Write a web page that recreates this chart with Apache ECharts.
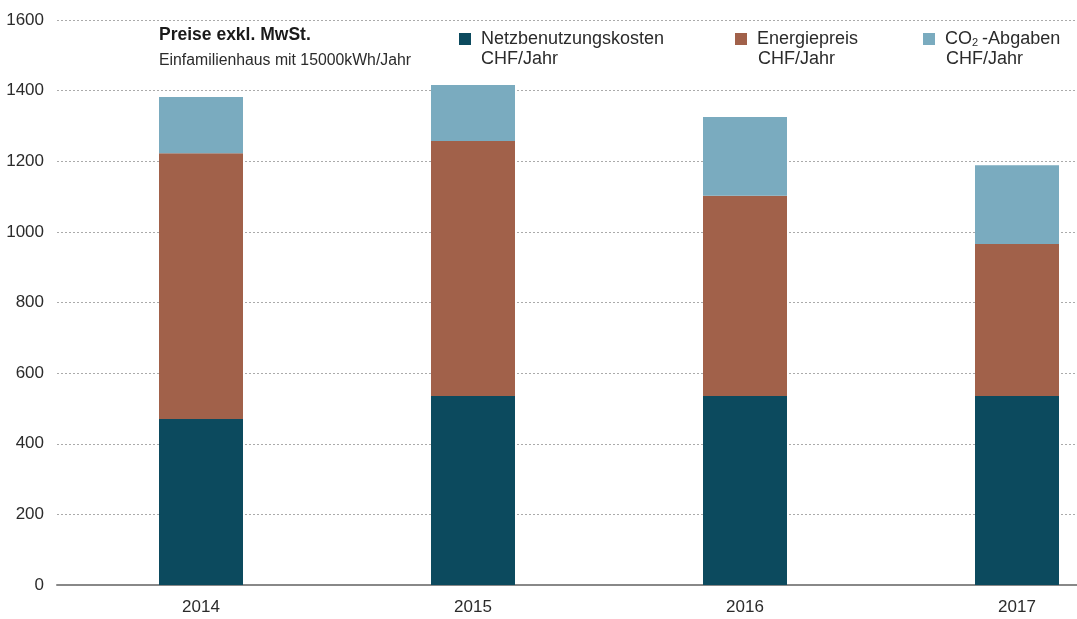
<!DOCTYPE html>
<html><head><meta charset="utf-8">
<script src="https://cdn.jsdelivr.net/npm/echarts@6/dist/echarts.min.js"></script>
<style>html,body{margin:0;padding:0;background:#fff}#c{width:1077px;height:619px}</style>
</head><body><div id="c"></div>
<script>
const years = ['2014', '2015', '2016', '2017'];
const netz = [470, 535, 535, 535];
const energie = [753, 722, 567, 431];
const co2 = [159, 159, 223, 223];
const yTicks = [0, 200, 400, 600, 800, 1000, 1200, 1400, 1600];
const names = ['Netzbenutzungskosten', 'Energiepreis', 'CO2-Abgaben'];
const colors = ['#0c4a5e', '#a1614a', '#7aabbf'];
const FONT = 'Liberation Sans';
const TXT = '#2b2b2b';

const chart = echarts.init(document.getElementById('c'), null, {renderer: 'canvas'});
function mk(name, vals, color) {
  return {
    name: name, type: 'bar', stack: 't', barWidth: 84, clip: false,
    xAxisIndex: 1, yAxisIndex: 1,
    itemStyle: {color: color},
    data: vals
  };
}
chart.setOption({
  animation: false,
  textStyle: {fontFamily: FONT},
  grid: [
    {left: 57, right: 0, top: 20, bottom: 34, containLabel: false},
    {left: 201, right: 60, top: 20, bottom: 34, containLabel: false}
  ],
  title: {
    text: '{b|Preise exkl. MwSt}{r|.}',
    subtext: 'Einfamilienhaus mit 15000kWh/Jahr',
    left: 159, top: 26, itemGap: 9, padding: 0,
    textStyle: {fontSize: 17.5, fontFamily: FONT,
      rich: {b: {fontSize: 17.5, fontWeight: 'bold', color: '#1a1a1a', fontFamily: FONT},
             r: {fontSize: 17.5, color: '#1a1a1a', fontFamily: FONT}}},
    subtextStyle: {fontSize: 15.8, color: TXT, fontFamily: FONT}
  },
  legend: [0, 1, 2].map(i => ({
    data: [names[i]],
    left: [459, 735, 923][i], top: 30, padding: 0,
    itemWidth: 12, itemHeight: 12, itemGap: 10,
    icon: 'rect',
    textStyle: {fontSize: 18, color: TXT, fontFamily: FONT, padding: [0, 0, 0, 5],
      rich: {a: {fontSize: 18, color: TXT, fontFamily: FONT},
             s: {fontSize: 11, color: TXT, fontFamily: FONT, padding: [7, 4, 0, 0]}}},
    formatter: n => n === 'CO2-Abgaben' ? '{a|CO}{s|2}{a|-Abgaben}' : n
  })),
  graphic: [481, 758, 946].map(x => ({
    type: 'text', left: x, top: 50,
    style: {text: 'CHF/Jahr', fontSize: 18, fill: TXT, fontFamily: FONT}
  })),
  xAxis: [
    {
      type: 'category', gridIndex: 0, data: years,
      axisTick: {show: false}, axisLabel: {show: false}, splitLine: {show: false},
      axisLine: {show: true, lineStyle: {color: '#888', width: 2}}
    },
    {
      type: 'category', gridIndex: 1, data: years, boundaryGap: false,
      axisTick: {show: false}, splitLine: {show: false},
      axisLine: {show: false},
      axisLabel: {fontSize: 17, color: TXT, margin: 14}
    }
  ],
  yAxis: [
    {
      type: 'value', gridIndex: 0, min: 0, max: 1600, interval: 200,
      axisLine: {show: false}, axisTick: {show: false},
      axisLabel: {fontSize: 17, color: TXT, margin: 13, formatter: v => String(v)},
      splitLine: {lineStyle: {type: [2, 2], color: '#aaa', width: 1}}
    },
    {
      type: 'value', gridIndex: 1, min: 0, max: 1600, interval: 200,
      show: false, splitLine: {show: false}
    }
  ],
  series: [mk(names[0], netz, colors[0]), mk(names[1], energie, colors[1]), mk(names[2], co2, colors[2])]
});
</script></body></html>
